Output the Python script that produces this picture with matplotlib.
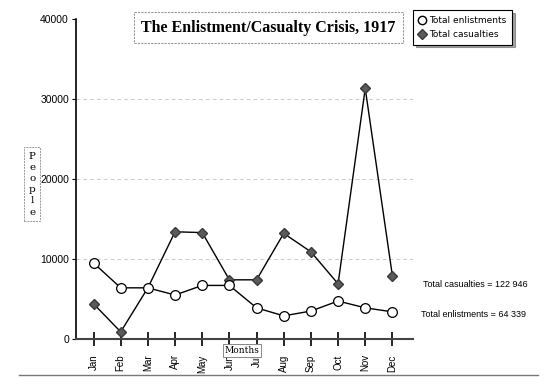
import matplotlib.pyplot as plt
from matplotlib.lines import Line2D

months = ["Jan", "Feb", "Mar", "Apr", "May", "Jun", "Jul", "Aug", "Sep", "Oct", "Nov", "Dec"]
enlistments = [9500, 6400, 6400, 5500, 6700, 6700, 3900, 2900, 3500, 4750, 3900, 3400]
casualties = [4400, 900, 6400, 13400, 13300, 7400, 7400, 13200, 10900, 6900, 31300, 7900]
yticks = [0, 10000, 20000, 30000, 40000]

fig = plt.figure(figsize=(5.46, 3.84), dpi=100)
ax = fig.add_axes([0.139, 0.117, 0.617, 0.834])

x = list(range(len(months)))
ax.plot(x, casualties, color="black", lw=1.0, marker="D", ms=5.5,
        mfc="#5a5a5a", mec="#3a3a3a", zorder=3)
ax.plot(x, enlistments, color="black", lw=1.0, marker="o", ms=7,
        mfc="white", mec="black", mew=0.9, zorder=3)

ax.set_xlim(-0.65, 11.75)
ax.set_ylim(0, 40000)
ax.set_xticks(x)
ax.set_xticklabels(months, rotation=90, fontsize=7, family="Liberation Sans")
ax.set_yticks(yticks)
ax.set_yticklabels([str(v) for v in yticks], fontsize=7.5, family="Liberation Sans")
ax.tick_params(axis="x", length=10, width=1.2, direction="inout", pad=6)
ax.tick_params(axis="y", length=3, width=0.8, direction="out", pad=2)
for s in ["top", "right"]:
    ax.spines[s].set_visible(False)
ax.spines["bottom"].set_linewidth(1.5)
ax.spines["bottom"].set_color("#444444")
ax.spines["left"].set_linewidth(1.2)
for v in yticks[1:4]:
    ax.axhline(v, color="#cccccc", lw=0.7, ls=(0, (4, 3)), zorder=1)

# title box
fig.text(0.492, 0.928, "The Enlistment/Casualty Crisis, 1917", ha="center", va="center",
         fontsize=11.5, fontweight="bold", family="Liberation Serif",
         bbox=dict(boxstyle="square,pad=0.45", fc="white", ec="#999999", lw=0.8, ls=(0, (2, 1))))

# legend
legend_handles = [
    Line2D([], [], ls="none", marker="o", ms=6, mfc="white", mec="black"),
    Line2D([], [], ls="none", marker="D", ms=5, mfc="#5a5a5a", mec="#3a3a3a"),
]
leg = fig.legend(legend_handles, ["Total enlistments", "Total casualties"],
                 loc="upper left", bbox_to_anchor=(0.748, 0.985), fontsize=6.5,
                 frameon=True, fancybox=False, shadow=True, handlelength=0.8,
                 handletextpad=0.4, borderpad=0.6, labelspacing=0.6)
leg.get_frame().set_edgecolor("black")
leg.get_frame().set_linewidth(0.8)
leg.set_zorder(5)

# y label
fig.text(0.059, 0.52, "P\ne\no\np\nl\ne", ha="center", va="center", fontsize=7.5,
         family="DejaVu Serif", linespacing=1.3,
         bbox=dict(boxstyle="square,pad=0.45", fc="white", ec="#999999", lw=0.7, ls=(0, (2, 1))))

# x label
fig.text(0.443, 0.088, "Months", ha="center", va="center", fontsize=6.5,
         family="DejaVu Serif",
         bbox=dict(boxstyle="square,pad=0.2", fc="white", ec="#888888", lw=0.7))

fig.text(0.775, 0.26, "Total casualties = 122 946", ha="left", va="center",
         fontsize=6.5, family="Liberation Sans")
fig.text(0.771, 0.182, "Total enlistments = 64 339", ha="left", va="center",
         fontsize=6.5, family="Liberation Sans")

fig.add_artist(Line2D([0.035, 0.985], [0.023, 0.023], color="#777777", lw=1.0))

fig.savefig("out.png", dpi=100)
